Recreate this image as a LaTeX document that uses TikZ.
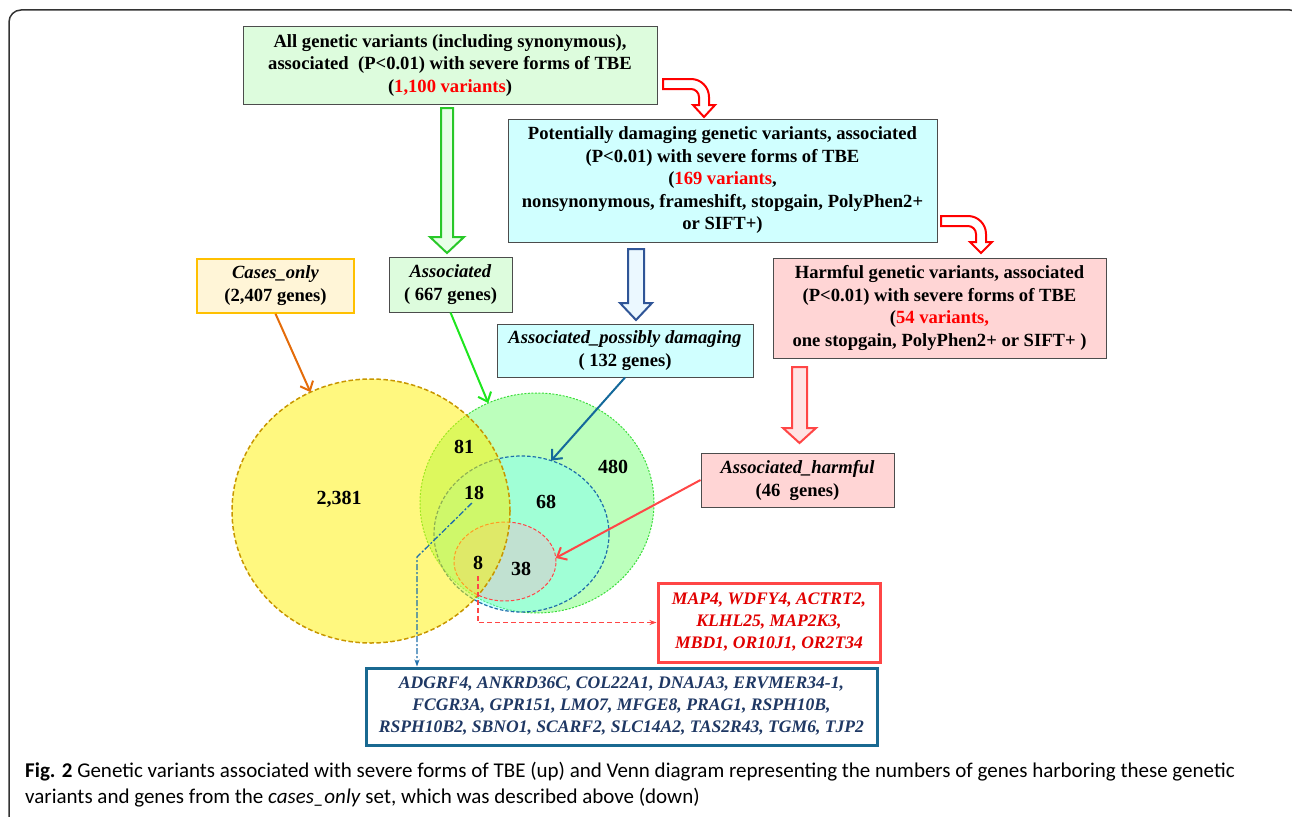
\documentclass[tikz,border=0pt]{standalone}
\usepackage{fontspec}
\setmainfont{Liberation Serif}
\newfontfamily\capfont{Carlito}
\usetikzlibrary{shapes.geometric,arrows.meta,positioning}

\definecolor{boxgreen}{RGB}{221,252,221}
\definecolor{boxcyan}{RGB}{208,255,255}
\definecolor{boxpink}{RGB}{255,213,213}
\definecolor{boxcream}{RGB}{255,245,215}
\definecolor{casesline}{RGB}{255,192,0}
\definecolor{arrorange}{RGB}{228,108,10}
\definecolor{arrgreen}{RGB}{30,230,30}
\definecolor{arrblue}{RGB}{20,105,155}
\definecolor{arrred}{RGB}{255,70,70}
\definecolor{hollowgreen}{RGB}{40,200,40}
\definecolor{hollowblue}{RGB}{47,85,151}
\definecolor{palegreen}{RGB}{232,255,232}
\definecolor{paleblue}{RGB}{235,248,255}
\definecolor{palepink}{RGB}{255,228,228}
\definecolor{venngreen}{RGB}{122,255,122}
\definecolor{venncyan}{RGB}{120,255,255}
\definecolor{vennpink}{RGB}{255,170,200}
\definecolor{goldline}{RGB}{200,150,0}
\definecolor{greenline}{RGB}{60,220,60}
\definecolor{blueline}{RGB}{30,110,170}
\definecolor{genenavy}{RGB}{31,56,100}
\definecolor{geneframe}{RGB}{25,105,145}
\definecolor{genered}{RGB}{225,0,0}

\tikzset{
  box/.style={draw=black!70, line width=1pt, align=center, inner sep=0pt,
    font=\bfseries\fontsize{18.6}{22.5}\selectfont},
  labelbox/.style={box, font=\bfseries\fontsize{18.6}{23}\selectfont},
  genes/.style={box, line width=3pt, font=\bfseries\itshape\fontsize{17.6}{22}\selectfont},
  venn/.style={ellipse, inner sep=0pt, outer sep=0pt},
  num/.style={font=\bfseries\fontsize{20}{24}\selectfont, inner sep=1pt},
  thin/.style={line width=2pt, -{Straight Barb[length=8pt,width=14pt]}},
  link/.style={line width=1.3pt, -{Stealth[length=7pt,width=5pt]}},
  hollow/.style={line width=2pt, line join=miter},
}

\begin{document}
\begin{tikzpicture}[x=1pt,y=-1pt]
\useasboundingbox (0,0) rectangle (1292,816);
\clip (0,0) rectangle (1292,816);

%outer frame
\draw[black!80, line width=1.5pt, rounded corners=12pt] (9,10) rectangle (1302,840);

%variant boxes
\node[box, fill=boxgreen, minimum width=414pt, minimum height=77pt] (allvar) at (450,65.5)
  {All genetic variants (including synonymous),\\ associated \ (P<0.01) with severe forms of TBE\\ ({\color{red}1,100 variants})};
\node[box, fill=boxcyan, minimum width=429pt, minimum height=123pt] (damaging) at (722.5,180.5)
  {Potentially damaging genetic variants, associated\\ (P<0.01) with severe forms of TBE\\ ({\color{red}169 variants},\\ nonsynonymous, frameshift, stopgain, PolyPhen2+\\ or SIFT+)};
\node[box, fill=boxpink, minimum width=333pt, minimum height=100pt] (harmful) at (939.5,308)
  {Harmful genetic variants, associated\\ (P<0.01) with severe forms of TBE\\ ({\color{red}54 variants,}\\ one stopgain, PolyPhen2+ or SIFT+ )};

%gene set boxes
\node[labelbox, draw=casesline, line width=1.5pt, fill=boxcream, minimum width=157pt, minimum height=54pt] (cases) at (275.5,286)
  {\textit{Cases\_only}\\ (2,407 genes)};
\node[labelbox, fill=boxgreen, minimum width=123pt, minimum height=55pt] (assoc) at (450.5,284.5)
  {\textit{Associated}\\ ( 667 genes)};
\node[labelbox, fill=boxcyan, minimum width=256pt, minimum height=53pt] (possdam) at (625,350.5)
  {\textit{Associated\_possibly damaging}\\ ( 132 genes)};
\node[labelbox, fill=boxpink, minimum width=193pt, minimum height=54pt] (assharm) at (797.5,480)
  {\textit{Associated\_harmful}\\ (46 \ genes)};

%gene lists
\node[genes, draw=arrred, text=genered, fill=white, minimum width=222pt, minimum height=79pt] (redgenes) at (769,622.5)
  {MAP4, WDFY4, ACTRT2,\\ KLHL25, MAP2K3,\\ MBD1, OR10J1, OR2T34};
\node[genes, draw=geneframe, text=genenavy, fill=white, minimum width=511pt, minimum height=77pt] (bluegenes) at (621.5,706.5)
  {ADGRF4, ANKRD36C, COL22A1, DNAJA3, ERVMER34-1,\\ FCGR3A, GPR151, LMO7, MFGE8, PRAG1, RSPH10B,\\ RSPH10B2, SBNO1, SCARF2, SLC14A2, TAS2R43, TGM6, TJP2};

%block arrows
\draw[hollow, draw=hollowgreen, fill=palegreen] (441,108) -- (453,108) -- (453,237) -- (464,237) -- (447,253) -- (430,237) -- (441,237) -- cycle;
\draw[hollow, draw=hollowblue, fill=paleblue] (628,249) -- (644,249) -- (644,303) -- (652,303) -- (636,320) -- (620,303) -- (628,303) -- cycle;
\draw[hollow, draw=arrred, fill=palepink] (792,367) -- (807,367) -- (807,428) -- (816,428) -- (799.5,443) -- (783,428) -- (792,428) -- cycle;
\draw[hollow, draw=red, fill=white] (663,79) -- (691,79) arc[start angle=-90, end angle=0, radius=18] -- (709,105) -- (715,105) -- (704,117) -- (693,105) -- (699,105) -- (699,97) arc[start angle=0, end angle=-90, radius=8] -- (663,89) -- cycle;
\draw[hollow, draw=red, fill=white] (941,216) -- (968,216) arc[start angle=-90, end angle=0, radius=18] -- (986,242) -- (992,242) -- (981,253) -- (970,242) -- (976,242) -- (976,234) arc[start angle=0, end angle=-90, radius=8] -- (941,226) -- cycle;

%venn sets
\node[venn, minimum width=234pt, minimum height=220pt, fill=venngreen, fill opacity=0.5, draw=greenline, line width=1pt, dash pattern=on 2pt off 1.5pt] (grn) at (537,503) {};
\node[venn, minimum width=175pt, minimum height=156pt, fill=venncyan, fill opacity=0.4, draw=blueline, line width=1.2pt, dash pattern=on 3.5pt off 2pt] (blu) at (521.5,534) {};
\node[venn, minimum width=102pt, minimum height=79pt, fill=vennpink, fill opacity=0.35, draw=arrred, line width=1pt, dash pattern=on 3.5pt off 2pt] (red) at (505,561.5) {};
\node[venn, minimum width=278pt, minimum height=264pt, fill=yellow, fill opacity=0.5, draw=goldline, line width=1.5pt, dash pattern=on 4.5pt off 2.5pt] (yel) at (371,511) {};

%counts
\node[num] (n2381) at (339,499) {2,381};
\node[num] (n81) at (464,447) {81};
\node[num] (n480) at (613,467) {480};
\node[num] (n18) at (474,493) {18};
\node[num] (n68) at (546,502) {68};
\node[num] (n8) at (478,563) {8};
\node[num] (n38) at (521,569) {38};

%connectors
\draw[thin, arrorange] (cases.south) -- (yel.117);
\draw[thin, arrgreen] (assoc.south) -- (grn.116);
\draw[thin, arrblue] (possdam.south) -- (blu.68);
\draw[thin, arrred] (assharm.west) -- (red.4);
\coordinate (kink18) at (417,557);
\draw[link, blueline, dash pattern=on 6pt off 2pt on 2pt off 2pt, shorten <=3pt] (n18.south) -- (kink18) -- (kink18 |- bluegenes.north);
\draw[link, arrred, dash pattern=on 5pt off 3pt, shorten <=5pt] (n8.south) |- (redgenes.west);

%caption
\node[anchor=north west, align=left, inner sep=0pt, font=\capfont\fontsize{21}{26}\selectfont] (caption) at (25,762)
  {\textbf{Fig. 2} Genetic variants associated with severe forms of TBE (up) and Venn diagram representing the numbers of genes harboring these genetic\\ variants and genes from the \textit{cases\_only} set, which was described above (down)};
\end{tikzpicture}
\end{document}
